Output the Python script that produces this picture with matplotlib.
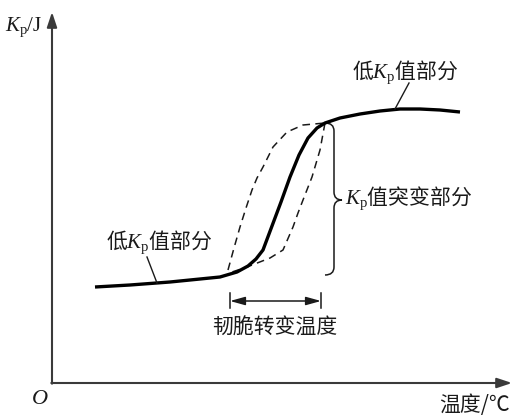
import matplotlib
matplotlib.use("Agg")
import matplotlib.pyplot as plt
from matplotlib.path import Path
from matplotlib.patches import PathPatch

plt.rcParams['font.family'] = ['Noto Sans CJK SC', 'Liberation Serif']
plt.rcParams['mathtext.fontset'] = 'custom'
plt.rcParams['mathtext.rm'] = 'Liberation Serif'
plt.rcParams['mathtext.it'] = 'Liberation Serif:italic'

# mean Kp vs temperature (arbitrary units)
temp = [43, 78, 118, 148, 168, 185, 196, 204, 211, 220, 229, 238, 247, 256,
        265, 273, 288, 308, 328, 348, 368, 388, 408]
kp = [96, 98, 101, 104, 106, 111, 117, 124, 133, 157, 181, 206, 228, 245,
      255, 260, 265, 269, 272, 274, 274, 273, 271]

# scatter band: upper and lower bounds of the transition
upper_t = [176, 182, 188, 194, 200, 205, 211, 221, 235, 251, 273]
upper_kp = [113, 135, 156, 175, 193, 205, 216, 236, 251, 258, 260]
lower_t = [273, 268, 260, 251, 246, 241, 231, 218, 195, 180]
lower_kp = [260, 233, 206, 183, 170, 156, 133, 125, 116, 111]

fig = plt.figure(figsize=(5.15, 4.16), dpi=100)
ax = fig.add_axes([0, 0, 1, 1])
ax.set_xlim(-52, 463)
ax.set_ylim(-33, 383)
ax.axis('off')

ink = '#1a1a1a'
axis_col = '#3a3a3a'

# axes with arrow heads
arrow = dict(arrowstyle='-|>,head_length=0.9,head_width=0.3', color=axis_col,
             lw=1.5, shrinkA=0, shrinkB=0)
ax.annotate('', xy=(0, 371), xytext=(0, -0.7), arrowprops=arrow)
ax.annotate('', xy=(460, 0), xytext=(-0.7, 0), arrowprops=arrow)

ax.plot(upper_t, upper_kp, color=ink, lw=1.1, ls=(0, (5, 3.5)))
ax.plot(lower_t, lower_kp, color=ink, lw=1.1, ls=(0, (5, 3.5)))
ax.plot(temp, kp, color='black', lw=2.4, solid_capstyle='butt',
        solid_joinstyle='round')

# leader lines
ax.plot([95, 105], [126, 100], color=ink, lw=1.0)
ax.plot([343, 357], [274, 300], color=ink, lw=1.0)

# brace around the jump
verts = [(273, 260), (282, 260), (282, 252),
         (282, 191),
         (282, 183), (290, 183),
         (282, 183), (282, 175),
         (282, 116),
         (282, 108), (273, 108)]
codes = [Path.MOVETO, Path.CURVE3, Path.CURVE3,
         Path.LINETO,
         Path.CURVE3, Path.CURVE3,
         Path.CURVE3, Path.CURVE3,
         Path.LINETO,
         Path.CURVE3, Path.CURVE3]
ax.add_patch(PathPatch(Path(verts, codes), fill=False, color=ink, lw=1.1))

# transition temperature range
ax.annotate('', xy=(178, 82), xytext=(269, 82),
            arrowprops=dict(arrowstyle='<|-|>,head_length=0.9,head_width=0.25',
                            color=ink, lw=1.1, shrinkA=0, shrinkB=0))
ax.plot([178, 178], [75, 90], color=ink, lw=1.1)
ax.plot([269, 269], [75, 90], color=ink, lw=1.1)

fs = 15
ax.text(353, 311, r'低$K_\mathrm{p}$值部分', fontsize=fs, ha='center', va='center', color=ink)
ax.text(107, 141, r'低$K_\mathrm{p}$值部分', fontsize=fs, ha='center', va='center', color=ink)
ax.text(293, 185, r'$K_\mathrm{p}$值突变部分', fontsize=fs, ha='left', va='center', color=ink)
ax.text(223, 55, '韧脆转变温度', fontsize=fs, ha='center', va='center', color=ink)
ax.text(423, -22, '温度/℃', fontsize=15, ha='center', va='center', color=ink)
ax.text(-28, 356, r'$K_\mathrm{p}\mathrm{/J}$', fontsize=15, ha='center', va='center', color=ink)
ax.text(-12, -15, r'$O$', fontsize=16, ha='center', va='center', color=ink)

fig.savefig('out.png', dpi=100)
